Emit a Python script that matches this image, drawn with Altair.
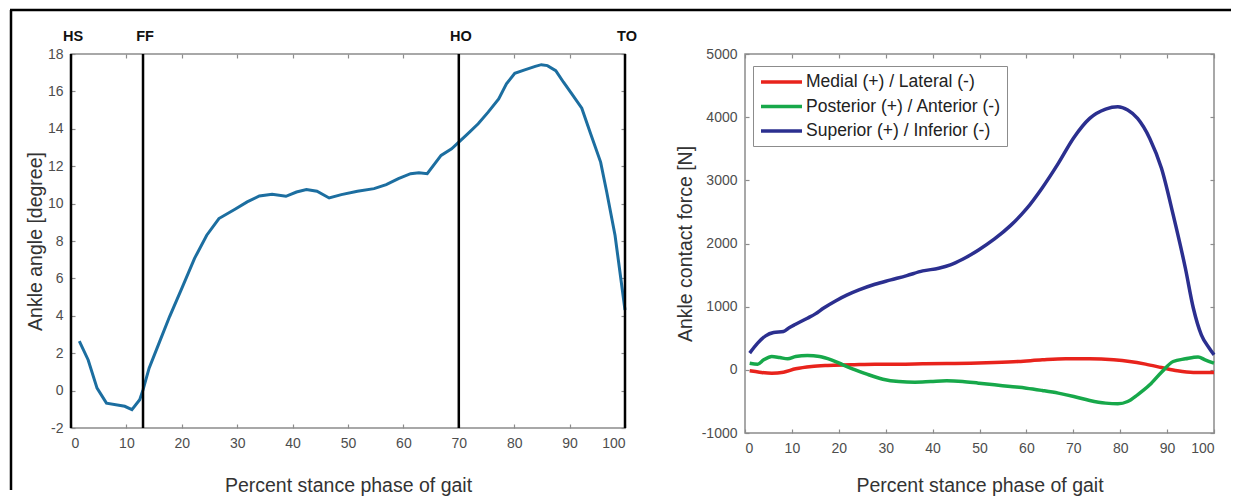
import altair as alt
import pandas as pd

# ---------------- data ----------------
angle_x = [1.5, 3.1, 4.7, 6.4, 9.7, 11.0, 12.4, 13.0, 14.1, 16.0, 17.8, 20.0, 22.3, 24.5, 26.7,
           29.6, 31.8, 34.0, 36.3, 38.8, 40.7, 42.5, 44.4, 46.6, 48.8, 51.7, 54.7, 56.9, 59.1,
           61.3, 62.8, 64.3, 66.8, 68.7, 70.0, 71.6, 73.5, 75.3, 77.2, 78.6, 80.1, 81.9, 83.8,
           84.9, 86.0, 87.5, 88.9, 90.4, 92.2, 93.7, 95.6, 96.7, 98.2, 100.0]
angle_y = [2.65, 1.64, 0.13, -0.67, -0.84, -1.02, -0.49, 0.04, 1.2, 2.62, 3.96, 5.47, 7.07, 8.31, 9.2,
           9.7, 10.09, 10.41, 10.5, 10.39, 10.62, 10.75, 10.66, 10.3, 10.48, 10.66, 10.8, 11.01, 11.33,
           11.6, 11.65, 11.6, 12.58, 12.93, 13.29, 13.73, 14.27, 14.89, 15.6, 16.4, 16.97, 17.15, 17.34,
           17.43, 17.38, 17.11, 16.49, 15.87, 15.1, 13.82, 12.22, 10.62, 8.31, 4.31]

event_names = ["HS", "FF", "HO", "TO"]
event_x = [0, 13, 70, 100]

sup_x = [1.0, 2.7, 4.4, 6.1, 8.2, 9.5, 10.8, 13.3, 15.0, 16.7, 19.3, 21.8, 24.3, 27.7, 31.1, 34.5,
         37.9, 41.3, 43.8, 46.4, 49.8, 53.2, 56.6, 60.0, 63.4, 66.8, 70.1, 73.5, 76.9, 79.5, 81.6,
         83.7, 86.3, 88.8, 91.3, 93.9, 95.6, 97.3, 99.0, 100.0]
sup_y = [264, 422, 538, 590, 606, 670, 722, 817, 886, 975, 1091, 1186, 1265, 1355, 1424, 1492,
         1566, 1608, 1661, 1750, 1898, 2072, 2283, 2547, 2884, 3269, 3675, 3981, 4128, 4165, 4113,
         3981, 3664, 3190, 2452, 1608, 975, 554, 343, 237]

post_x = [1.0, 2.7, 4.0, 5.7, 7.4, 9.1, 10.8, 13.3, 15.9, 18.4, 20.9, 23.5, 26.0, 29.4, 32.8, 36.2,
          39.6, 43.0, 46.4, 49.8, 53.2, 56.6, 60.0, 63.4, 66.8, 70.1, 73.5, 76.9, 79.5, 81.6, 83.7,
          86.3, 88.8, 91.3, 93.9, 96.6, 98.1, 100.0]
post_y = [105, 90, 158, 211, 195, 174, 211, 227, 211, 158, 79, 0, -69, -148, -185, -195,
          -185, -174, -185, -211, -237, -264, -290, -327, -369, -422, -485, -527, -538, -501, -395,
          -237, -37, 132, 174, 205, 158, 105]

med_x = [1.0, 3.1, 5.7, 8.2, 10.8, 14.2, 17.6, 22.6, 27.7, 32.8, 37.9, 43.0, 48.1, 53.2, 58.3,
         63.4, 68.4, 73.5, 78.6, 82.0, 85.4, 88.8, 92.2, 95.6, 100.0]
med_y = [-16, -37, -53, -37, 16, 53, 69, 79, 90, 90, 95, 100, 105, 116, 132,
         158, 174, 174, 158, 132, 90, 37, -16, -42, -42]

series_names = ["Medial (+) / Lateral (-)", "Posterior (+) / Anterior (-)", "Superior (+) / Inferior (-)"]
series_colors = ["#e8231c", "#17a84a", "#2b2f8f"]

x_ticks = list(range(0, 101, 10))
angle_ticks = list(range(-2, 19, 2))
force_ticks = list(range(-1000, 5001, 1000))

x_title = "Percent stance phase of gait"
angle_title = "Ankle angle [degree]"
force_title = "Ankle contact force [N]"

# ---------------- tables ----------------
angle_df = pd.DataFrame({"pct": angle_x, "angle": angle_y})
event_df = pd.DataFrame({"event": event_names, "pct": event_x})

rows = []
for name, xs, ys in zip(series_names, [med_x, post_x, sup_x], [med_y, post_y, sup_y]):
    for i, (xv, yv) in enumerate(zip(xs, ys)):
        rows.append({"series": name, "pct": xv, "force": yv, "order": i})
force_df = pd.DataFrame(rows)

ANGLE_COLOR = "#1c6ea0"
TICK_GRAY = "#8c8c8c"
PLAIN = "datum.value + ''"

def main_x_axis(pad):
    return alt.Axis(orient="bottom", values=x_ticks, offset=-4, tickSize=4, labelPadding=8,
                    domain=False, grid=False, titlePadding=pad, labelExpr=PLAIN)

def main_y_axis(vals, pad):
    return alt.Axis(orient="left", values=vals, offset=-4, tickSize=4, labelPadding=8,
                    domain=False, grid=False, titlePadding=pad, labelExpr=PLAIN)

top_axis = alt.Axis(orient="top", values=x_ticks, offset=-4, tickSize=4, labels=False,
                    domain=False, grid=False)

def right_axis(vals):
    return alt.Axis(orient="right", values=vals, offset=-4, tickSize=4, labels=False,
                    domain=False, grid=False)

one_row = alt.Data(values=[{"k": 1}])

# ---------------- left panel ----------------
xs_left = alt.Scale(domain=[0, 100], nice=False, zero=False)
ys_left = alt.Scale(domain=[-2, 18], nice=False, zero=False)

left_line = alt.Chart(angle_df).mark_line(color=ANGLE_COLOR, strokeWidth=3).encode(
    x=alt.X("pct:Q", scale=xs_left, axis=main_x_axis(26), title=x_title),
    y=alt.Y("angle:Q", scale=ys_left, axis=main_y_axis(angle_ticks, 2), title=angle_title),
)
left_ticks = alt.Chart(angle_df).mark_line(opacity=0).encode(
    x=alt.X("pct:Q", scale=xs_left, axis=top_axis, title=None),
    y=alt.Y("angle:Q", scale=ys_left, axis=right_axis(angle_ticks), title=None),
)
event_rules = alt.Chart(event_df).mark_rule(color="black", strokeWidth=2.5).encode(
    x=alt.X("pct:Q", scale=xs_left, axis=None),
)
event_text = alt.Chart(event_df).mark_text(
    fontWeight="bold", fontSize=14.5, color="#111", baseline="middle", dx=2
).encode(
    x=alt.X("pct:Q", scale=xs_left, axis=None),
    y=alt.value(-17),
    text="event:N",
)
frame_left = alt.Chart(one_row).mark_rule(color="black", strokeWidth=2.5).encode(
    x=alt.value(-60), y=alt.value(-44), y2=alt.value(436)
)
frame_top = alt.Chart(one_row).mark_rule(color="black", strokeWidth=2.5).encode(
    x=alt.value(-61), x2=alt.value(1160), y=alt.value(-44)
)

left = alt.layer(left_line, left_ticks, event_rules, event_text, frame_left, frame_top).resolve_axis(
    x="independent", y="independent"
).properties(width=554, height=374)

# ---------------- right panel ----------------
xs_right = alt.Scale(domain=[0, 100], nice=False, zero=False)
ys_right = alt.Scale(domain=[-1000, 5000], nice=False, zero=False)

right_lines = alt.Chart(force_df).mark_line(strokeWidth=3.5, interpolate="monotone").encode(
    x=alt.X("pct:Q", scale=xs_right, axis=main_x_axis(21), title=x_title),
    y=alt.Y("force:Q", scale=ys_right, axis=main_y_axis(force_ticks, 6), title=force_title),
    color=alt.Color(
        "series:N",
        scale=alt.Scale(domain=series_names, range=series_colors),
        legend=alt.Legend(
            title=None, orient="none", legendX=8, legendY=12,
            symbolType="M-1,0H4.125", symbolSize=256, symbolStrokeWidth=3.5,
            labelFontSize=17.5, labelOffset=27, labelColor="#222", labelLimit=400,
            padding=6, rowPadding=5.5, strokeColor="#8c8c8c", fillColor="white",
        ),
    ),
    order="order:Q",
)
right_ticks = alt.Chart(force_df).mark_line(opacity=0).encode(
    x=alt.X("pct:Q", scale=xs_right, axis=top_axis, title=None),
    y=alt.Y("force:Q", scale=ys_right, axis=right_axis(force_ticks), title=None),
    detail="series:N",
)

right = alt.layer(right_lines, right_ticks).resolve_axis(
    x="independent", y="independent"
).properties(width=469, height=379)

chart = alt.hconcat(left, right, spacing=120, bounds="flush").resolve_legend(
    color="independent"
).properties(
    padding=0
).configure(
    font="Liberation Sans"
).configure_view(
    stroke=TICK_GRAY, strokeWidth=1.5
).configure_axis(
    labelFont="Liberation Sans", labelFontSize=14, labelColor="#4d4d4d",
    titleFont="Liberation Sans", titleFontSize=19.5, titleFontWeight="normal", titleColor="#333333",
    tickColor=TICK_GRAY, tickWidth=1.2,
)

chart.save("out.html", embed_options={"renderer": "svg", "actions": False})
